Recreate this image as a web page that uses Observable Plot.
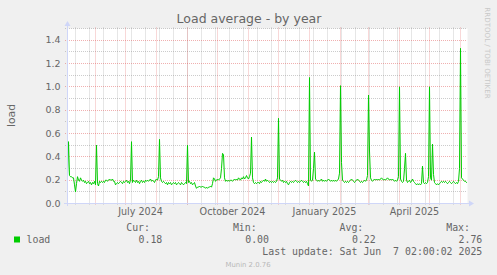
<!DOCTYPE html>
<html>
<head>
<meta charset="utf-8">
<script src="https://cdn.jsdelivr.net/npm/d3@7"></script>
<script src="https://cdn.jsdelivr.net/npm/@observablehq/plot@0.6"></script>
<style>
  html, body { margin: 0; padding: 0; background: #f0f0f0; }
  svg { display: block; }
</style>
</head>
<body>
<div id="chart"></div>
<script>
// ---- data (daily load average, one value per day from startDate) ----
const startDate = "2024-05-04T00:00:00Z";
const endDate = "2025-06-08T00:00:00Z";
const loadValues = [
  0.23,0.53,0.24,0.23,0.23,0.22,0.22,0.16,0.10,0.17,
  0.23,0.20,0.19,0.22,0.20,0.19,0.20,0.18,0.19,0.17,
  0.18,0.19,0.17,0.18,0.16,0.18,0.17,0.19,0.16,0.50,
  0.17,0.15,0.19,0.18,0.19,0.18,0.19,0.18,0.20,0.20,
  0.19,0.20,0.21,0.20,0.20,0.21,0.19,0.19,0.16,0.17,
  0.18,0.17,0.18,0.19,0.18,0.17,0.19,0.18,0.19,0.20,
  0.18,0.19,0.17,0.20,0.53,0.18,0.20,0.19,0.18,0.20,
  0.18,0.19,0.17,0.19,0.20,0.18,0.19,0.18,0.20,0.19,
  0.20,0.19,0.20,0.21,0.19,0.20,0.19,0.18,0.20,0.21,
  0.20,0.23,0.55,0.22,0.19,0.18,0.19,0.18,0.17,0.18,
  0.16,0.18,0.17,0.18,0.16,0.17,0.18,0.17,0.18,0.16,
  0.17,0.18,0.17,0.16,0.18,0.17,0.16,0.17,0.18,0.17,
  0.50,0.18,0.19,0.17,0.18,0.16,0.17,0.18,0.15,0.13,
  0.14,0.14,0.15,0.14,0.14,0.15,0.14,0.14,0.13,0.14,
  0.13,0.14,0.14,0.15,0.14,0.17,0.22,0.21,0.19,0.20,
  0.21,0.20,0.21,0.22,0.30,0.43,0.42,0.22,0.19,0.20,
  0.19,0.20,0.19,0.20,0.20,0.19,0.20,0.21,0.20,0.21,
  0.20,0.22,0.21,0.20,0.22,0.21,0.23,0.21,0.22,0.24,
  0.22,0.21,0.23,0.26,0.57,0.22,0.18,0.17,0.18,0.17,
  0.18,0.18,0.17,0.19,0.18,0.19,0.20,0.19,0.21,0.19,
  0.20,0.19,0.18,0.19,0.18,0.19,0.18,0.19,0.18,0.19,
  0.22,0.73,0.21,0.20,0.19,0.20,0.18,0.19,0.18,0.19,
  0.17,0.16,0.18,0.19,0.18,0.19,0.18,0.19,0.20,0.19,
  0.18,0.19,0.18,0.19,0.20,0.19,0.18,0.19,0.18,0.19,
  0.17,0.15,1.08,0.20,0.19,0.20,0.30,0.44,0.21,0.20,
  0.19,0.20,0.19,0.20,0.21,0.19,0.20,0.19,0.20,0.19,
  0.20,0.21,0.20,0.19,0.20,0.19,0.20,0.19,0.20,0.19,
  0.20,0.21,0.26,1.01,0.35,0.20,0.19,0.18,0.19,0.18,
  0.19,0.18,0.19,0.20,0.21,0.20,0.19,0.18,0.19,0.20,
  0.21,0.20,0.19,0.18,0.19,0.18,0.19,0.20,0.19,0.20,
  0.24,0.93,0.45,0.22,0.20,0.19,0.20,0.21,0.20,0.21,
  0.20,0.21,0.20,0.21,0.22,0.21,0.20,0.21,0.20,0.21,
  0.22,0.21,0.20,0.21,0.20,0.21,0.20,0.19,0.20,0.19,
  0.20,0.23,1.00,0.21,0.19,0.18,0.19,0.30,0.43,0.20,
  0.18,0.19,0.20,0.18,0.19,0.21,0.19,0.18,0.17,0.16,
  0.17,0.16,0.17,0.16,0.17,0.32,0.18,0.17,0.18,0.17,
  0.18,0.23,1.00,0.22,0.20,0.51,0.25,0.18,0.17,0.16,
  0.17,0.16,0.17,0.18,0.19,0.18,0.19,0.18,0.19,0.18,
  0.17,0.18,0.19,0.18,0.17,0.18,0.19,0.18,0.17,0.18,
  0.17,0.19,0.30,1.33,0.22,0.21,0.20,0.19,0.19,0.18
];

// ---- grid / tick definitions ----
const yMajorTicks = [0.2, 0.4, 0.6, 0.8, 1.0, 1.2, 1.4];
const yMinorTicks = [0.1, 0.3, 0.5, 0.7, 0.9, 1.1, 1.3, 1.5];
const yTickLabels = [0.0, 0.2, 0.4, 0.6, 0.8, 1.0, 1.2, 1.4];
const xMajorGrid = ["2024-06-01","2024-07-01","2024-08-01","2024-09-01","2024-10-01","2024-11-01",
  "2024-12-01","2025-01-01","2025-02-01","2025-03-01","2025-04-01","2025-05-01","2025-06-01"];
const xMinorGrid = ["2024-05-12","2024-05-26","2024-06-09","2024-06-23","2024-07-07","2024-07-21",
  "2024-08-04","2024-08-18","2024-09-01","2024-09-15","2024-09-29","2024-10-13","2024-10-27",
  "2024-11-10","2024-11-24","2024-12-08","2024-12-22","2025-01-05","2025-01-19","2025-02-02",
  "2025-02-16","2025-03-02","2025-03-16","2025-03-30","2025-04-13","2025-04-27","2025-05-11","2025-05-25"];
const xLabelDates = ["2024-07-16","2024-10-16","2025-01-16","2025-04-16"];
const xLabels = ["July 2024","October 2024","January 2025","April 2025"];

// ---- legend ----
const seriesName = "load";
const legendHeads = ["Cur:", "Min:", "Avg:", "Max:"];
const legendValues = ["0.18", "0.00", "0.22", "2.76"];
const lastUpdate = "Last update: Sat Jun  7 02:00:02 2025";
const chartTitle = "Load average - by year";
const yLabel = "load";
const watermark = "RRDTOOL / TOBI OETIKER";
const footer = "Munin 2.0.76";

const DAY = 864e5;
const t0 = new Date(startDate).getTime();
const rows = loadValues.map((v, i) => ({date: new Date(t0 + i * DAY), load: v}));
const toDate = s => new Date(s + "T00:00:00Z");

const W = 497, H = 275;
const mL = 67, mR = 30, mB = 72, mT = 28;
const y0 = H - mB; // 203

const green = "#00cc00";
const fontColor = "#666666";
const axisColor = "#cfd6f8";
const gray = {stroke: "rgb(143,143,143)", strokeOpacity: 0.45, strokeDasharray: "1,1"};
const red = {stroke: "rgb(222,79,79)", strokeOpacity: 0.45, strokeDasharray: "1,1"};

const chart = Plot.plot({
  width: W, height: H,
  marginLeft: mL, marginRight: mR, marginTop: mT, marginBottom: mB,
  style: {background: "#f0f0f0", fontFamily: "DejaVu Sans", color: fontColor, overflow: "visible"},
  x: {type: "utc", domain: [new Date(startDate), new Date(endDate)], axis: null, label: null},
  y: {domain: [0, 1.5], axis: null, label: null},
  marks: [
    Plot.frame({fill: "#ffffff", stroke: null}),
    Plot.ruleY(yMinorTicks, {...gray, shapeRendering: "crispEdges", insetLeft: -2.5}),
    Plot.ruleX(xMinorGrid.map(toDate), {...gray, insetTop: -0.5, insetBottom: -2}),
    Plot.ruleY(yMajorTicks, {...red, shapeRendering: "crispEdges", insetLeft: -2.5}),
    Plot.ruleX(xMajorGrid.map(toDate), {...red, insetTop: -0.5, insetBottom: -2}),
    Plot.line(rows, {x: "date", y: "load", stroke: green, strokeWidth: 1}),
    Plot.axisY(yTickLabels, {tickSize: 0, tickPadding: 7, fontSize: 9.5, label: null,
      tickFormat: d => d.toFixed(1), fill: fontColor}),
    Plot.axisX(xLabelDates.map(toDate), {tickSize: 0, tickPadding: 5, fontSize: 9.6, fill: fontColor, label: null,
      tickFormat: (d, i) => xLabels[i]})
  ]
});

document.getElementById("chart").appendChild(chart);

const svg = d3.select(chart);
const xEnd = W - mR;

// axes lines + arrows
svg.append("line").attr("x1", mL - 3).attr("x2", xEnd + 3).attr("y1", y0 + 0.5).attr("y2", y0 + 0.5)
  .attr("stroke", axisColor).attr("stroke-width", 1);
svg.append("line").attr("x1", mL + 0.5).attr("x2", mL + 0.5).attr("y1", y0 + 3).attr("y2", mT - 3)
  .attr("stroke", axisColor).attr("stroke-width", 1);
svg.append("path").attr("d", `M${xEnd + 7},${y0 + 0.5} L${xEnd + 2},${y0 - 2.5} L${xEnd + 2},${y0 + 3.5} Z`).attr("fill", axisColor);
svg.append("path").attr("d", `M${mL + 0.5},${mT - 7} L${mL - 2.5},${mT - 2} L${mL + 3.5},${mT - 2} Z`).attr("fill", axisColor);

const addText = (x, y, str, opts = {}) => svg.append("text")
  .attr("x", x).attr("y", y)
  .attr("text-anchor", opts.anchor || "start")
  .attr("font-family", opts.family || "DejaVu Sans")
  .attr("font-size", opts.size || 10)
  .attr("fill", opts.fill || fontColor)
  .attr("transform", opts.transform || null)
  .style("white-space", "pre")
  .text(str);

// title
addText(249, 23.3, chartTitle, {anchor: "middle", size: 12.5});
// y label
addText(0, 0, yLabel, {anchor: "middle", size: 10.8, transform: `translate(14.5,${(mT + y0) / 2}) rotate(-90)`});
// watermark
addText(0, 0, watermark, {anchor: "middle", size: 7.1, fill: "#c8c8c8", transform: "translate(484.5,53) rotate(90)"});

// legend
const mono = "DejaVu Sans Mono";
const headRight = [150, 256.7, 363.3, 470];
const valRight = [162.3, 269, 375.7, 482.3];
svg.append("rect").attr("x", 14).attr("y", 236.5).attr("width", 6).attr("height", 6).attr("fill", green);
addText(26.5, 243.2, seriesName, {family: mono, size: 9.9});
legendHeads.forEach((h, i) => {
  addText(headRight[i], 231.4, h, {anchor: "end", family: mono, size: 9.9});
  addText(valRight[i], 243.2, legendValues[i], {anchor: "end", family: mono, size: 9.9});
});
addText(482.3, 255.2, lastUpdate, {anchor: "end", family: mono, size: 9.9});
addText(248, 267.3, footer, {anchor: "middle", size: 6.9, fill: "#b8b8b8"});
</script>
</body>
</html>
